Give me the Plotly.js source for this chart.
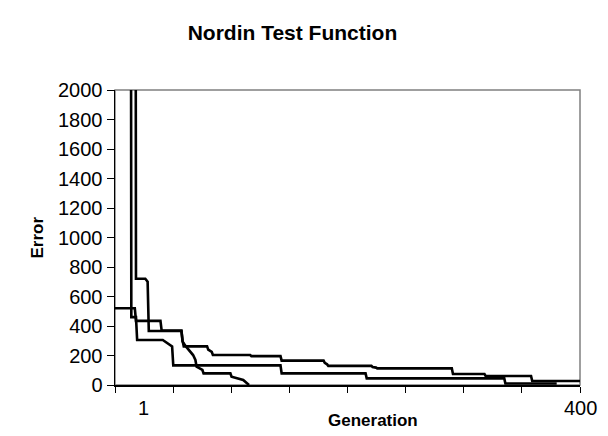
<!DOCTYPE html>
<html>
<head>
<meta charset="utf-8">
<script src="https://cdn.plot.ly/plotly-3.0.1.min.js"></script>
<style>html,body{margin:0;padding:0;background:#fff}#chart{width:608px;height:436px}</style>
</head>
<body>
<div id="chart"></div>
<script>
// Series A (starts at 520)
const genA = [1, 18, 19, 40, 41, 58, 59, 60, 80, 81, 84, 85, 117, 118, 143, 144, 180, 181, 183, 184, 221, 222, 225, 226, 290, 291, 318, 319, 358, 359, 400];
const errA = [520, 520, 435, 435, 370, 370, 300, 262, 262, 240, 225, 203, 203, 196, 196, 165, 165, 150, 140, 130, 130, 122, 118, 113, 113, 75, 75, 61, 61, 27, 27];
// Series B (falls from above the axis at about generation 15)
const genB = [1, 14, 15, 19, 20, 42, 50, 51, 143, 144, 216, 217, 335, 336, 380];
const errB = [8000, 8000, 460, 460, 305, 305, 262, 133, 133, 79, 79, 45, 45, 10, 10];
// Series C (falls from above the axis, plateau near 720, reaches 0)
const genC = [1, 18, 19, 27, 29, 30, 58, 59, 62, 66, 68, 70, 71, 76, 77, 100, 101, 111, 116];
const errC = [8000, 8000, 720, 720, 700, 366, 366, 294, 260, 226, 203, 170, 124, 102, 79, 79, 56, 34, 0];

const yTicks = [0, 200, 400, 600, 800, 1000, 1200, 1400, 1600, 1800, 2000];
const xTickLabels = ['1', '400'];
const xFirst = 1, xLast = 400;
const xTickCount = 8;

const xTickVals = [];
for (let k = 0; k <= xTickCount; k++) xTickVals.push(xFirst + k * (xLast - xFirst) / xTickCount);

const FONT = 'Liberation Sans, Arial, sans-serif';
const TICK = 20;
const mk = (x, y) => ({x: x, y: y, type: 'scatter', mode: 'lines',
  line: {color: '#000', width: 2.6}, hoverinfo: 'skip', showlegend: false});

const data = [mk(genA, errA), mk(genB, errB), mk(genC, errC)];

const layout = {
  width: 608, height: 436,
  margin: {l: 114.5, r: 28, t: 90, b: 51, pad: 0},
  paper_bgcolor: '#fff', plot_bgcolor: '#fff',
  font: {family: FONT, color: '#000', size: TICK},
  title: {text: '<b>Nordin Test Function</b>', font: {family: FONT, size: 21, color: '#000'},
    xref: 'container', yref: 'container', x: 0.481, y: 0.924, xanchor: 'center', yanchor: 'middle'},
  xaxis: {range: [xFirst, xLast], tickmode: 'array', tickvals: xTickVals,
    ticktext: xTickVals.map(() => ''), ticks: 'outside', ticklen: 6, tickwidth: 1,
    tickcolor: '#000', showline: true, linecolor: '#000', linewidth: 1.5,
    showgrid: false, zeroline: false, fixedrange: true},
  yaxis: {range: [0, 2000], tickmode: 'array', tickvals: yTicks,
    ticktext: yTicks.map(String), ticks: 'outside', ticklen: 7, tickwidth: 1,
    tickcolor: '#000', showline: true, linecolor: '#000', linewidth: 1.5,
    showgrid: false, zeroline: false, fixedrange: true,
    tickfont: {family: FONT, size: TICK, color: '#000'}},
  shapes: [{type: 'rect', xref: 'paper', yref: 'paper', x0: 0, x1: 1, y0: 0, y1: 1,
    line: {color: '#808080', width: 1.5}, layer: 'below'}],
  annotations: [
    {text: xTickLabels[0], xref: 'x', yref: 'paper', x: xFirst, y: 0, xshift: 28, yshift: -10,
     showarrow: false, yanchor: 'top', xanchor: 'center', font: {family: FONT, size: TICK}},
    {text: xTickLabels[1], xref: 'x', yref: 'paper', x: xLast, y: 0, yshift: -10,
     showarrow: false, yanchor: 'top', xanchor: 'center', font: {family: FONT, size: TICK}},
    {text: '<b>Generation</b>', xref: 'paper', yref: 'paper', x: 0.5, xshift: 25, y: 0, yshift: -24,
     showarrow: false, yanchor: 'top', xanchor: 'center', font: {family: FONT, size: 17}},
    {text: '<b>Error</b>', xref: 'paper', yref: 'paper', x: 0, xshift: -78, y: 0.5,
     showarrow: false, textangle: -90, xanchor: 'center', yanchor: 'middle', font: {family: FONT, size: 17}}
  ]
};

Plotly.newPlot('chart', data, layout, {displayModeBar: false, staticPlot: true});
</script>
</body>
</html>
